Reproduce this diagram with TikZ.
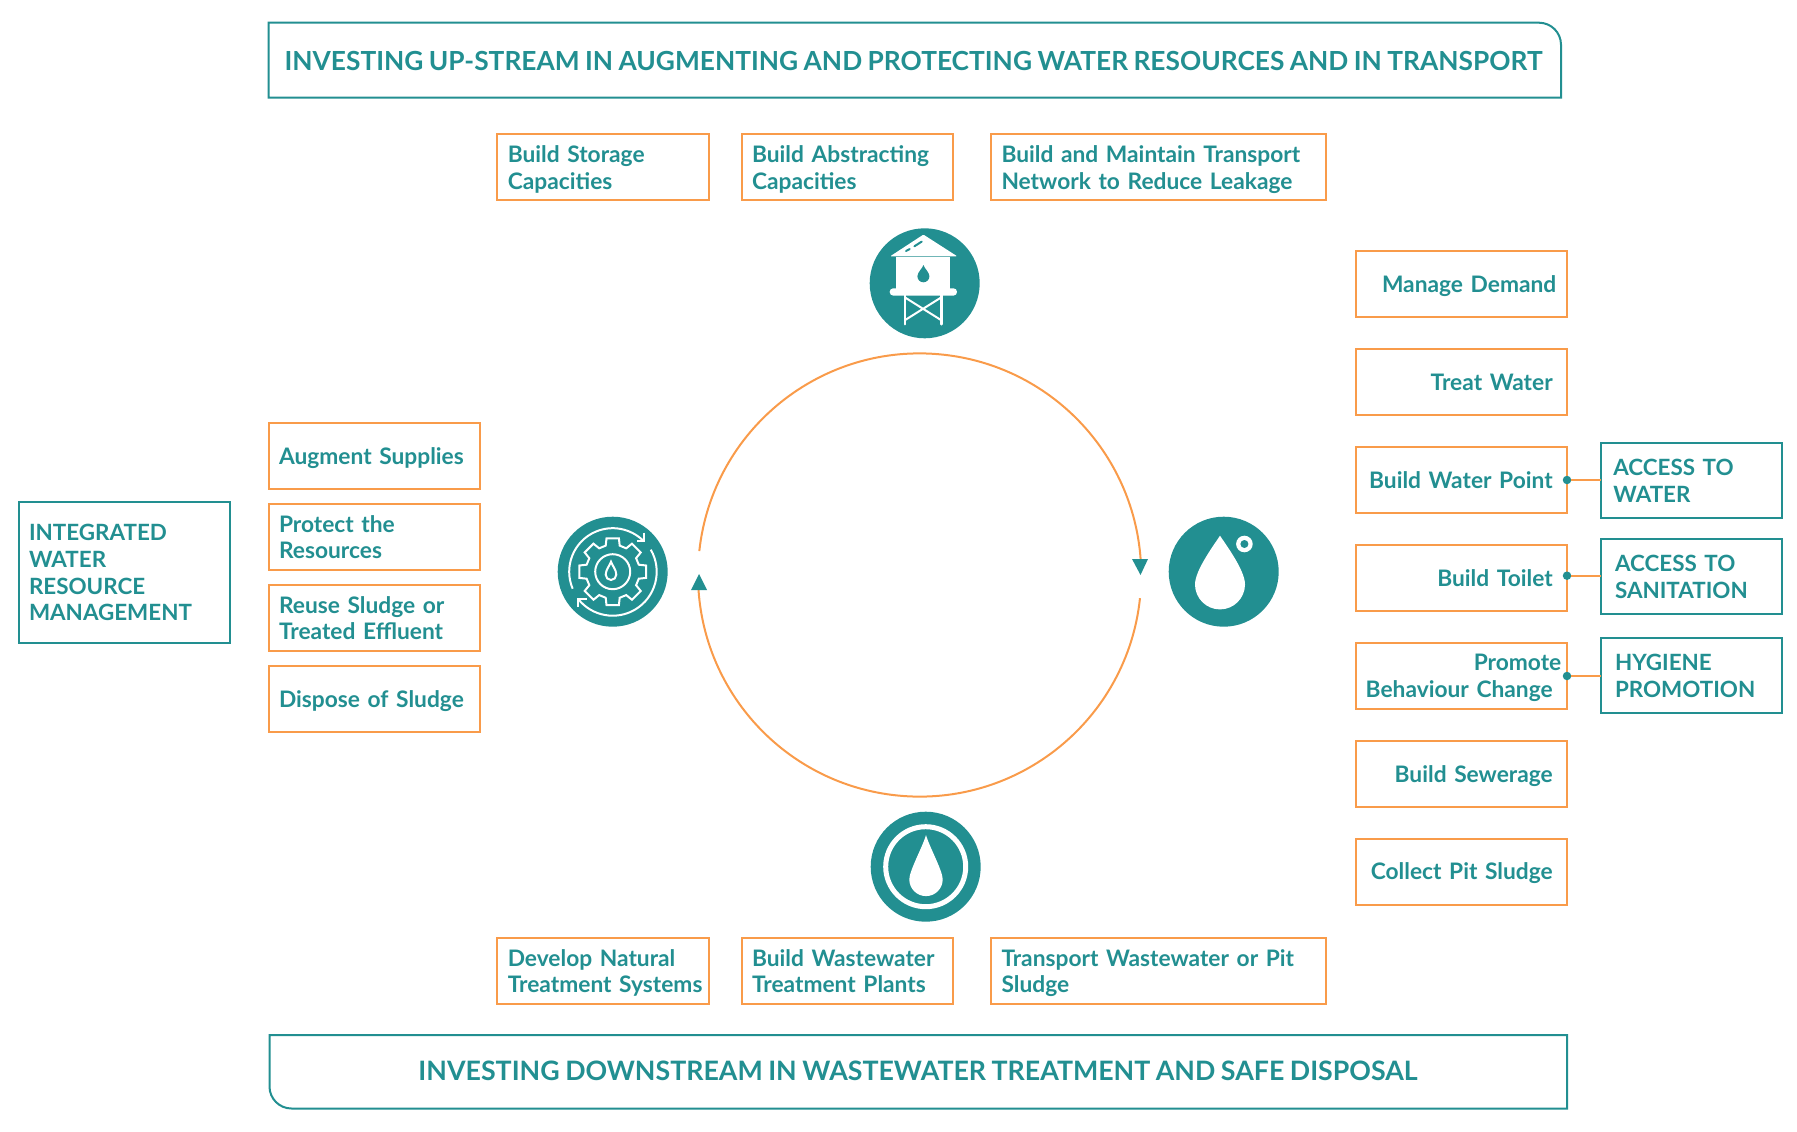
\documentclass[tikz,border=0pt]{standalone}
\usepackage{fontspec}
\setmainfont{Lato}[UprightFont=* Bold,WordSpace=0.85]
\definecolor{tealc}{HTML}{228F91}
\definecolor{orangec}{HTML}{F99B4A}
\newcommand\rp{\hspace*{8.6pt}}
\tikzset{
  x=1pt,y=-1pt,
  boxtext/.style={text=tealc,font=\fontsize{22.75}{26.6}\selectfont,line width=2pt,outer sep=0pt,inner ysep=0pt,
    execute at begin node={\rule{0pt}{22pt}},execute at end node={\rule[-5.2pt]{0pt}{5.2pt}}},
  obl/.style={boxtext,draw=orangec,align=left,inner xsep=10.5pt,text width=#1,minimum height=66pt},
  topfix/.style={execute at begin node={\rule{0pt}{24pt}}},
  obr/.style={boxtext,draw=orangec,align=right,inner xsep=6pt,text width=199.6pt,minimum height=66pt},
  tb/.style={boxtext,font=\fontsize{22.4}{26.6}\selectfont,draw=tealc,align=left,inner xsep=13.7pt,text width=#1,minimum height=75.5pt},
  bannertext/.style={text=tealc,font=\fontsize{#1}{32}\selectfont,inner sep=0pt},
  bannerline/.style={draw=tealc,line width=2pt},
  iconc/.style={circle,fill=tealc,minimum size=110pt,inner sep=0pt,outer sep=0pt},
  dotn/.style={circle,fill=tealc,minimum size=8.5pt,inner sep=0pt,outer sep=0pt},
  link/.style={draw=orangec,line width=2pt},
  ring/.style={draw=orangec,line width=2pt},
  headt/.style={fill=tealc},
  wl/.style={draw=white,line width=2pt},
}
\begin{document}
\begin{tikzpicture}
\useasboundingbox (0,0) rectangle (1797,1132);
% banners
\node[bannertext=26.3] (topban) at (913.5,60.5) {INVESTING UP-STREAM IN AUGMENTING AND PROTECTING WATER RESOURCES AND IN TRANSPORT};
\draw[bannerline] (268.5,97.7) -- (268.5,22.7) [rounded corners=22pt] -- (1561,22.7) [rounded corners=0pt] -- (1561,97.7) -- cycle;
\node[bannertext=26.75] (botban) at (918,1071) {INVESTING DOWNSTREAM IN WASTEWATER TREATMENT AND SAFE DISPOSAL};
\draw[bannerline] (1567,1035) -- (1567,1108.5) [rounded corners=22pt] -- (269.5,1108.5) [rounded corners=0pt] -- (269.5,1035) -- cycle;
% top boxes
\node[obl=190.7pt,topfix] (t1) at (603.15,167) {Build Storage\\[0.4pt]Capacities};
\node[obl=190pt,topfix] (t2) at (847,167) {Build Abstracting\\[0.4pt]Capacities};
\node[obl=314pt,topfix] (t3) at (1158.5,167) {Build and Maintain Transport\\[0.4pt]Network to Reduce Leakage};
% bottom boxes
\node[obl=190.7pt] (b1) at (603.15,971) {Develop Natural\\\mbox{Treatment Systems}};
\node[obl=190pt] (b2) at (847,971) {Build Wastewater\\Treatment Plants};
\node[obl=314pt] (b3) at (1158.5,971) {Transport Wastewater or Pit\\Sludge};
% right boxes
\node[obr] (r1) at (1461.5,283.7) {Manage Demand\hspace*{5pt}};
\node[obr] (r2) at (1461.5,381.7) {Treat Water\rp};
\node[obr] (r3) at (1461.5,479.7) {Build Water Point\rp};
\node[obr] (r4) at (1461.5,577.7) {Build Toilet\rp};
\node[obr] (r5) at (1461.5,675.7) {Promote\rp\\Behaviour Change\rp};
\node[obr] (r6) at (1461.5,773.7) {Build Sewerage\rp};
\node[obr] (r7) at (1461.5,871.7) {Collect Pit Sludge\rp\rule[-7.2pt]{0pt}{7.2pt}};
% access boxes
\node[tb=156.4pt,inner xsep=12pt] (a1) at (1691.5,480.3) {ACCESS TO\\WATER};
\node[tb=153pt] (a2) at (1691.5,576.3) {ACCESS TO\\SANITATION};
\node[tb=153pt] (a3) at (1691.5,675.3) {HYGIENE\\PROMOTION};
\node[dotn] (d1) at (1567,480) {};
\node[dotn] (d2) at (1567,575.7) {};
\node[dotn] (d3) at (1567,676) {};
\draw[link] (d1) -- (a1.west |- d1);
\draw[link] (d2) -- (a2.west |- d2);
\draw[link] (d3) -- (a3.west |- d3);
% left boxes
\node[obl=190.5pt] (l1) at (374.25,456) {Augment Supplies};
\node[obl=190.5pt] (l2) at (374.25,537) {Protect the\\Resources};
\node[obl=190.5pt] (l3) at (374.25,618) {Reuse Sludge or\\Treated Effluent};
\node[obl=190.5pt] (l4) at (374.25,699) {Dispose of Sludge};
\node[tb=190.7pt,minimum height=140.7pt,inner xsep=10pt] (iwrm) at (124.35,572.4) {INTEGRATED\\WATER\\RESOURCE\\MANAGEMENT};
% ring
\draw[ring] (919.6,575) ++(186.2:221.6) arc[start angle=186.2,end angle=355.9,radius=221.6];
\draw[ring] (919.6,575) ++(6:221.6) arc[start angle=6,end angle=176.1,radius=221.6];
\fill[headt] (1132,559) -- (1148,559) -- (1140.5,575) -- cycle;
\fill[headt] (691,590) -- (707,590) -- (699,574) -- cycle;
% top icon
\node[iconc] (itop) at (924.7,283.3) {};
\begin{scope}[shift={(itop.center)}]
  \fill[white,rounded corners=1pt] (-1.3,-48.7) -- (32.5,-27) -- (-34.5,-27) -- cycle;
  \draw[tealc,line width=2pt,line cap=round] (-18.7,-32.3) -- (-15,-34.2) (-10.3,-37) -- (-3,-41.7);
  \fill[white] (-28.3,-26) rectangle (25.3,7);
  \fill[tealc] (-1.3,-18.3) .. controls (-2.5,-14.5) and (-7.3,-11) .. (-7.3,-7) arc[start angle=180,end angle=0,radius=6] .. controls (4.7,-11) and (-0.1,-14.5) .. (-1.3,-18.3) -- cycle;
  \fill[white,rounded corners=3.5pt] (-35,5) rectangle (32.3,12.3);
  \draw[wl,line width=2.4pt,line cap=round] (-20,12) -- (-20,41) (16.7,12) -- (16.7,41);
  \draw[wl,line width=2pt] (-20,14) -- (16.7,37) (16.7,14) -- (-20,37);
\end{scope}
% right icon
\node[iconc] (iright) at (1223.7,571.7) {};
\begin{scope}[shift={(iright.center)}]
  \fill[white] (-3.7,-36) .. controls (-11,-25) and (-28.7,-1) .. (-28.7,12.7) arc[start angle=180,end angle=0,radius=25] .. controls (21.3,-1) and (3.6,-25) .. (-3.7,-36) -- cycle;
  \fill[white] (20.7,-27.7) circle[radius=8.3];
  \fill[tealc] (20.7,-27.7) circle[radius=4];
\end{scope}
% bottom icon
\node[iconc] (ibot) at (925.7,866.7) {};
\begin{scope}[shift={(ibot.center)}]
  \draw[white,line width=5pt] (0,0) circle[radius=40];
  \fill[white] (0.3,-31.7) .. controls (-3,-20) and (-16.4,4) .. (-16.4,12.7) arc[start angle=180,end angle=0,radius=16.7] .. controls (17,4) and (3.6,-20) .. (0.3,-31.7) -- cycle;
\end{scope}
% left icon
\node[iconc] (ileft) at (612.7,571.7) {};
\begin{scope}[shift={(ileft.center)}]
  \draw[wl] (157:43.5) arc[start angle=157,end angle=315,radius=43.5];
  \draw[wl] (-30:44) arc[start angle=-30,end angle=141,radius=44];
  \draw[wl] (31.3,-39) -- (31.3,-30.7) -- (24,-30.7);
  \draw[wl] (-34.3,35) -- (-34.3,27.7) -- (-26,27.7);
  \draw[wl] (-15:27)
    \foreach \a in {0,45,...,315} { -- (\a-15:27) -- (\a-10.5:34) -- (\a+10.5:34) -- (\a+15:27) } -- cycle;
  \draw[wl] (0,0) circle[radius=17.5];
  \draw[wl] (-1.7,-10) .. controls (-3,-6) and (-7,-2) .. (-7,3) arc[start angle=180,end angle=0,radius=5.3] .. controls (3.6,-2) and (-0.4,-6) .. (-1.7,-10) -- cycle;
\end{scope}
\end{tikzpicture}
\end{document}
